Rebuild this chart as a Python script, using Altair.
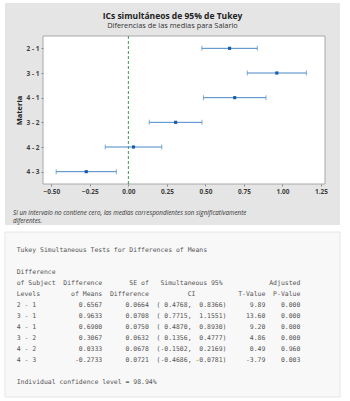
import altair as alt
import pandas as pd

# ---- data ----
comparisons = ["2 - 1", "3 - 1", "4 - 1", "3 - 2", "4 - 2", "4 - 3"]
diff_means = [0.6567, 0.9633, 0.6900, 0.3067, 0.0333, -0.2733]
se_diff = [0.0664, 0.0708, 0.0750, 0.0632, 0.0678, 0.0721]
ci_lower = [0.4768, 0.7715, 0.4870, 0.1356, -0.1502, -0.4686]
ci_upper = [0.8366, 1.1551, 0.8930, 0.4777, 0.2169, -0.0781]
t_values = [9.89, 13.60, 9.20, 4.86, 0.49, -3.79]
p_values = [0.000, 0.000, 0.000, 0.000, 0.960, 0.003]
x_ticks = [-0.50, -0.25, 0.00, 0.25, 0.50, 0.75, 1.00, 1.25]
individual_conf = "98.94%"

title_text = "ICs simultáneos de 95% de Tukey"
subtitle_text = "Diferencias de las medias para Salario"
footnote = ["Si un intervalo no contiene cero, las medias correspondientes son significativamente",
            "diferentes."]

# ---- layout ----
W, H = 282, 148
PL, PT = 43, 36

df = pd.DataFrame({"comp": comparisons, "diff": diff_means,
                   "lower": ci_lower, "upper": ci_upper})

# table text (monospace)
lines = ["Tukey Simultaneous Tests for Differences of Means", "", "Difference"]
lines.append(f"{'of Subject':<12}{'Difference':<10}{'SE of':>12}{'':3}{'Simultaneous 95%':<16}{'Adjusted':>20}")
lines.append(f"{'Levels':<6}{'of Means':>16}{'Difference':>12}{'CI':>12}{'T-Value':>18}{'P-Value':>9}")
for c, d, s, lo, hi, t, p in zip(comparisons, diff_means, se_diff, ci_lower, ci_upper, t_values, p_values):
    lines.append(f"{c:<5}{d:>17.4f}{s:>12.4f}  ({lo:7.4f}, {hi:7.4f}){t:>10.2f}{p:>9.3f}")
lines.append("")
lines.append(f"Individual confidence level = {individual_conf}")
table_df = pd.DataFrame({"line": list(range(len(lines))),
                         "txt": [l.replace(" ", "\u00a0") for l in lines]})

one = pd.DataFrame({"a": [0]})

panel = alt.Chart(one).mark_rect(fill="#e5e5e5").encode(
    x=alt.value(5 - PL), x2=alt.value(340 - PL),
    y=alt.value(3 - PT), y2=alt.value(225 - PT))

table_panel = alt.Chart(one).mark_rect(fill="#f8f8f8", stroke="#e6e6e6", strokeWidth=1).encode(
    x=alt.value(5 - PL), x2=alt.value(340 - PL),
    y=alt.value(232 - PT), y2=alt.value(397 - PT))

plot_bg = alt.Chart(one).mark_rect(fill="white", stroke="#a8a8a8", strokeWidth=1).encode(
    x=alt.value(0), x2=alt.value(W), y=alt.value(0), y2=alt.value(H))

title_mark = alt.Chart(one).mark_text(align="center", baseline="middle", font="Open Sans",
                                      fontSize=8.5, fontWeight="bold", color="#222222").encode(
    x=alt.value(172.5 - PL), y=alt.value(15.7 - PT), text=alt.value(title_text))
subtitle_mark = alt.Chart(one).mark_text(align="center", baseline="middle", font="Open Sans",
                                         fontSize=7.4, color="#333333").encode(
    x=alt.value(172.5 - PL), y=alt.value(26 - PT), text=alt.value(subtitle_text))

xscale = alt.Scale(domain=[-0.554, 1.276], nice=False, zero=False)
xaxis = alt.Axis(values=x_ticks, format=".2f", title=None, grid=False, domain=False,
                 tickSize=2, tickColor="#8a8a8a", labelColor="#404040", labelFontSize=6.5,
                 labelFont="Open Sans", labelFontWeight="bold", labelPadding=2,
                 labelFlush=False, zindex=1)
yaxis = alt.Axis(title="Materia", titleFont="Open Sans", titleFontWeight="bold",
                 titleFontSize=7.5, titleColor="#222222", titlePadding=3,
                 labelFont="Open Sans", labelFontSize=6.5, labelFontWeight="bold",
                 labelColor="#404040", labelPadding=2, tickSize=2, tickColor="#8a8a8a",
                 domain=False, grid=False, zindex=1)
yenc = alt.Y("comp:N", sort=comparisons, scale=alt.Scale(type="point", padding=0.5), axis=yaxis)

zero_line = alt.Chart(one).mark_rule(color="#3d9a5c", strokeDash=[3, 2], strokeWidth=1).encode(
    x=alt.datum(0, scale=xscale, axis=xaxis))

err = alt.Chart(df).mark_rule(color="#4a87c6", strokeWidth=1).encode(
    x=alt.X("lower:Q", scale=xscale, axis=xaxis), x2="upper:Q", y=yenc)
cap_lo = alt.Chart(df).mark_tick(color="#4a87c6", size=5, thickness=1).encode(
    x=alt.X("lower:Q", scale=xscale, axis=xaxis), y=yenc)
cap_hi = alt.Chart(df).mark_tick(color="#4a87c6", size=5, thickness=1).encode(
    x=alt.X("upper:Q", scale=xscale, axis=xaxis), y=yenc)
pts = alt.Chart(df).mark_square(color="#1a5ca8", size=10, opacity=1).encode(
    x=alt.X("diff:Q", scale=xscale, axis=xaxis), y=yenc)

inner = alt.layer(zero_line, err, cap_lo, cap_hi, pts)

table = alt.Chart(table_df).mark_text(align="left", baseline="middle", font="DejaVu Sans Mono",
                                      fontSize=6.46, color="#555555").encode(
    x=alt.value(16.7 - PL),
    y=alt.Y("line:Q", scale=alt.Scale(domain=[0, 12], range=[250 - PT, 382 - PT]), axis=None),
    text="txt:N")

note = alt.Chart(one).mark_text(align="left", baseline="middle", font="Open Sans",
                                fontStyle="italic", fontSize=6.3, color="#333333",
                                lineHeight=8).encode(
    x=alt.value(13 - PL), y=alt.value(213 - PT), text=alt.value(footnote))

chart = alt.layer(panel, table_panel, plot_bg, title_mark, subtitle_mark, inner, table, note).resolve_scale(
    y="independent"
).properties(
    width=W, height=H,
    padding={"left": PL, "top": PT, "right": 350 - PL - W, "bottom": 401 - PT - H},
    autosize=alt.AutoSizeParams(type="none"),
    background="white",
).configure_view(stroke=None)

chart.save("out.html", embed_options={"renderer": "svg", "actions": False})
